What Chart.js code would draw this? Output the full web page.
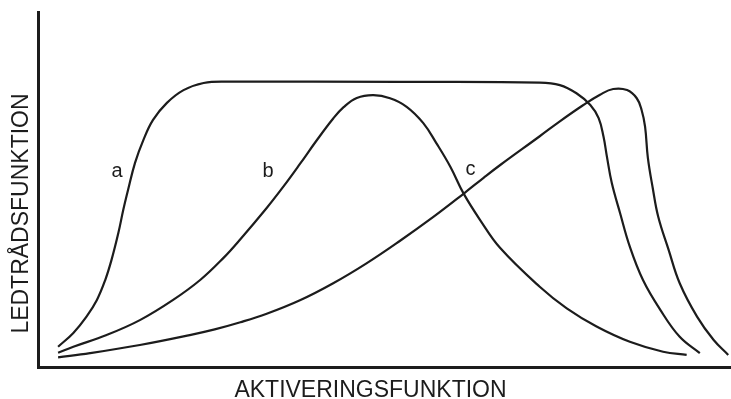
<!DOCTYPE html>
<html>
<head>
<meta charset="utf-8">
<script src="https://cdn.jsdelivr.net/npm/chart.js@4"></script>
<style>
    html, body { margin: 0; padding: 0; background: #fff; }
    #wrap { width: 731px; height: 399px; }
</style>
</head>
<body>
<div id="wrap"><canvas id="diagram"></canvas></div>
<script>
// kurva a
const aX = [2.9, 5.1, 7.0, 8.5, 9.7, 10.6, 11.6, 12.3, 13.0, 14.0, 15.2, 16.6, 18.6, 21.0, 23.9, 27.2,
            52.2, 72.4, 75.3, 77.7, 79.7, 80.9, 81.6, 82.1, 82.8, 84.0, 85.4, 87.3, 89.8, 92.6, 95.5];
const aY = [5.7, 9.6, 14.2, 18.9, 24.5, 30.1, 37.8, 44.2, 49.9, 57.5, 63.9, 69.6, 74.4, 78.0, 80.0, 80.4,
            80.3, 80.1, 79.4, 77.1, 73.8, 70.1, 64.9, 59.2, 51.8, 43.3, 33.9, 24.5, 16.1, 8.5, 3.9];

// kurva b
const bX = [2.9, 5.1, 9.9, 14.7, 19.5, 23.4, 26.7, 29.2, 33.0, 35.4, 37.8, 40.2, 42.6, 44.1, 46.0, 48.4,
            50.8, 53.2, 55.6, 57.5, 59.5, 61.4, 63.8, 66.7, 72.4, 76.3, 80.6, 85.4, 90.2, 93.6];
const bY = [4.0, 5.7, 9.0, 13.2, 18.9, 24.5, 30.6, 36.0, 44.8, 50.8, 57.2, 63.8, 70.0, 73.2, 75.8, 76.6,
            75.7, 73.3, 68.7, 63.0, 56.4, 48.9, 41.4, 33.5, 22.6, 16.5, 11.4, 7.1, 4.3, 3.4];

// kurva c
const cX = [2.9, 7.5, 14.7, 21.9, 25.5, 29.2, 33.0, 37.8, 42.6, 47.4, 52.2, 57.0, 61.4, 64.3, 66.7, 72.4,
            75.3, 78.7, 81.1, 83.0, 85.0, 86.4, 87.1, 87.6, 88.0, 88.7, 89.5, 91.0, 92.6, 95.1, 97.5, 99.6];
const cY = [2.7, 3.9, 6.2, 9.0, 10.6, 12.6, 15.0, 18.8, 23.6, 29.2, 35.5, 42.2, 48.8, 53.3, 56.9, 65.0,
            69.2, 73.8, 76.7, 78.3, 78.0, 75.7, 72.4, 67.7, 59.0, 50.5, 42.3, 33.0, 23.6, 14.2, 7.6, 3.4];

const curveNames = ['a', 'b', 'c'];
const curveLabelX = [11.4, 33.2, 62.4];
const curveLabelY = [55.2, 55.2, 55.5];

const xTitle = 'AKTIVERINGSFUNKTION';
const yTitle = 'LEDTRÅDSFUNKTION';

const ink = '#1c1c1c';
const fontFamily = '"Liberation Sans", Arial, sans-serif';

function toPoints(xs, ys) {
    return xs.map((x, i) => ({ x: x, y: ys[i] }));
}

function curve(xs, ys) {
    return {
        data: toPoints(xs, ys),
        borderColor: ink,
        borderWidth: 2.2,
        pointRadius: 0,
        fill: false,
        tension: 0.4
    };
}

// axeltitlar och kurvbokstäver
const textPlugin = {
    id: 'diagramText',
    afterDraw(chart) {
        const ctx = chart.ctx;
        const xs = chart.scales.x;
        const ys = chart.scales.y;
        ctx.save();
        ctx.fillStyle = ink;

        ctx.font = '23px ' + fontFamily;
        ctx.textAlign = 'center';
        ctx.textBaseline = 'alphabetic';
        ctx.fillText(xTitle, 370.5, 396.5);

        ctx.translate(27.5, 213.5);
        ctx.rotate(-Math.PI / 2);
        ctx.fillText(yTitle, 0, 0);
        ctx.restore();

        ctx.save();
        ctx.fillStyle = ink;
        ctx.font = '20px ' + fontFamily;
        ctx.textAlign = 'center';
        ctx.textBaseline = 'middle';
        curveNames.forEach((n, i) => {
            ctx.fillText(n, xs.getPixelForValue(curveLabelX[i]), ys.getPixelForValue(curveLabelY[i]));
        });
        ctx.restore();
    }
};

function axisOpts(min, max) {
    return {
        type: 'linear',
        min: min,
        max: max,
        grid: { display: false },
        ticks: { display: false },
        border: { display: true, color: ink, width: 3 }
    };
}

const xAxis = axisOpts(0, 100);
xAxis.afterFit = function (scale) { scale.height = 32; };
const yAxis = axisOpts(0, 100);
yAxis.afterFit = function (scale) { scale.width = 38; };

new Chart(document.getElementById('diagram'), {
    type: 'line',
    data: {
        datasets: [curve(aX, aY), curve(bX, bY), curve(cX, cY)]
    },
    options: {
        responsive: true,
        maintainAspectRatio: false,
        animation: false,
        layout: { padding: { top: 12, right: 0, bottom: 0, left: 0 } },
        scales: { x: xAxis, y: yAxis },
        plugins: {
            legend: { display: false },
            tooltip: { enabled: false }
        }
    },
    plugins: [textPlugin]
});
</script>
</body>
</html>
